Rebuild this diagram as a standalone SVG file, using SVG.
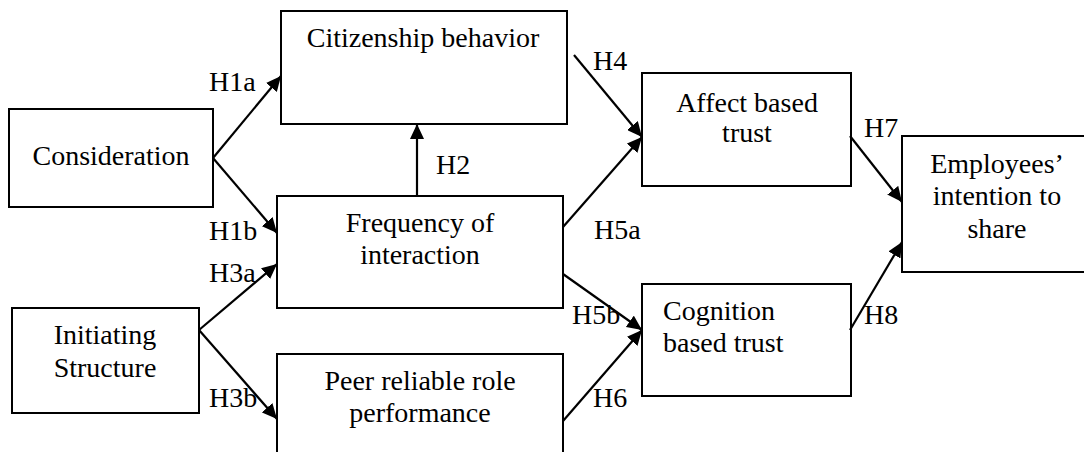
<svg xmlns="http://www.w3.org/2000/svg" width="1084" height="452" viewBox="0 0 1084 452">
<style>
.box{fill:#fff;stroke:#000;stroke-width:2}
.t{font-family:"Liberation Serif","Times New Roman",serif;font-size:28px;fill:#000}
.c{text-anchor:middle}
.e{stroke:#000;stroke-width:2.2;fill:none;marker-end:url(#ah)}
</style>
<defs>
<marker id="ah" markerUnits="userSpaceOnUse" markerWidth="16" markerHeight="14" refX="15" refY="7" orient="auto">
<path d="M0,0 L15,7 L0,14 z" fill="#000"/>
</marker>
</defs>
<rect width="1084" height="452" fill="#fff"/>
<g id="consideration"><rect class="box" x="9" y="109" width="204" height="98"/><text class="t c" x="111" y="165">Consideration</text></g>
<g id="citizenship"><rect class="box" x="281" y="11" width="286" height="113"/><text class="t c" x="423" y="47">Citizenship behavior</text></g>
<g id="frequency"><rect class="box" x="277" y="196" width="286" height="112"/><text class="t c" x="420" y="232">Frequency of</text><text class="t c" x="420" y="264">interaction</text></g>
<g id="initiating"><rect class="box" x="12" y="308" width="187" height="105"/><text class="t c" x="105" y="344">Initiating</text><text class="t c" x="105" y="377">Structure</text></g>
<g id="peer"><rect class="box" x="277" y="354" width="286" height="110"/><text class="t c" x="420" y="390">Peer reliable role</text><text class="t c" x="420" y="422">performance</text></g>
<g id="affect"><rect class="box" x="642" y="73" width="209" height="113"/><text class="t c" x="747" y="112">Affect based</text><text class="t c" x="747" y="142">trust</text></g>
<g id="cognition"><rect class="box" x="642" y="284" width="209" height="112"/><text class="t" x="663" y="320">Cognition</text><text class="t" x="663" y="352">based trust</text></g>
<g id="employees"><rect class="box" x="902" y="136" width="190" height="136"/><text class="t c" x="997" y="173">Employees’</text><text class="t c" x="997" y="205">intention to</text><text class="t c" x="997" y="238">share</text></g>
<g id="connectors">
<path class="e" d="M213,158 L281,76"/>
<path class="e" d="M213,158 L277,233"/>
<path class="e" d="M199,330 L277,264"/>
<path class="e" d="M199,330 L277,419"/>
<path class="e" d="M417,196 L417,124"/>
<path class="e" d="M574,55 L642,137"/>
<path class="e" d="M563,227 L642,137"/>
<path class="e" d="M563,274 L642,330"/>
<path class="e" d="M563,421 L642,330"/>
<path class="e" d="M850,136 L902,202"/>
<path class="e" d="M850,330 L902,242"/>
</g>
<g id="labels">
<text class="t" x="209" y="91">H1a</text>
<text class="t" x="209" y="240">H1b</text>
<text class="t" x="209" y="282">H3a</text>
<text class="t" x="209" y="407">H3b</text>
<text class="t" x="436" y="174">H2</text>
<text class="t" x="593" y="70">H4</text>
<text class="t" x="594" y="239">H5a</text>
<text class="t" x="572" y="324">H5b</text>
<text class="t" x="593" y="407">H6</text>
<text class="t" x="864" y="137">H7</text>
<text class="t" x="864" y="324">H8</text>
</g>
</svg>
